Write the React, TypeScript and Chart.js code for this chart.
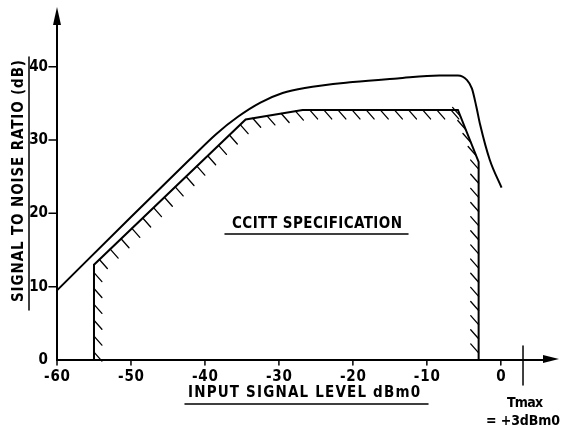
import React, { useEffect, useRef } from "react";
import { Chart, registerables } from "chart.js";

Chart.register(...registerables);

// ---- data ----
const xTicks = [-60, -50, -40, -30, -20, -10, 0];
const yTicks = [0, 10, 20, 30, 40];

// measured signal-to-noise curve
const measuredX = [-60, -50, -42, -38.5, -35.5, -32.5, -29.5, -26.5, -20, -14, -8.3, -5.8, -4.6, -3.9, -3.3, -2.8, -1.5, 0.1];
const measuredY = [9.5, 19.5, 27.4, 30.8, 33.2, 35.1, 36.4, 37.1, 37.9, 38.4, 38.8, 38.8, 38.2, 37.0, 34.5, 32.1, 27.3, 23.5];

// CCITT specification mask
const maskX = [-55, -55, -34.5, -26.8, -5.8, -3, -3];
const maskY = [0, 13, 32.8, 34.1, 34.1, 27, 0];

const tmaxValue = 3;
const xMin = -60;
const xMax = 8;
const yMin = 0;
const yMax = 48;

const FONT = '"DejaVu Sans Condensed", "Liberation Sans Narrow", "DejaVu Sans", sans-serif';

function fitText(ctx: CanvasRenderingContext2D, text: string, x: number, y: number, target: number) {
  const c: any = ctx;
  c.letterSpacing = "0px";
  const w = ctx.measureText(text).width;
  const n = text.length;
  let sp = n > 1 ? (target - w) / (n - 1) : 0;
  if (sp < -1) sp = -1;
  c.letterSpacing = sp.toFixed(2) + "px";
  const w2 = ctx.measureText(text).width;
  ctx.textAlign = "left";
  ctx.fillText(text, x - w2 / 2 + (c.letterSpacing ? sp / 2 : 0), y);
  c.letterSpacing = "0px";
}

const decorPlugin = {
  id: "decor",
  afterDatasetsDraw(chart: any) {
    const ctx: CanvasRenderingContext2D = chart.ctx;
    const xs = chart.scales.x;
    const ys = chart.scales.y;
    const ca = chart.chartArea;
    ctx.save();
    ctx.strokeStyle = "#000";
    ctx.fillStyle = "#000";
    ctx.lineCap = "round";

    // hatching along the mask
    const meta = chart.getDatasetMeta(0);
    const pts = meta.data.map((p: any) => ({ x: p.x, y: p.y }));
    const dl = Math.hypot(0.66, 0.75);
    const d0 = { x: 0.66 / dl, y: 0.75 / dl };
    const spacing = 14;
    const tickLen = 12;
    ctx.lineWidth = 1.3;
    for (let i = 0; i < pts.length - 1; i++) {
      const a = pts[i];
      const b = pts[i + 1];
      const dx = b.x - a.x;
      const dy = b.y - a.y;
      const len = Math.hypot(dx, dy);
      if (len < 1) continue;
      const ux = dx / len;
      const uy = dy / len;
      const nx = -uy;
      const ny = ux;
      let d = d0;
      if (d0.x * nx + d0.y * ny < 0) d = { x: -d0.x, y: -d0.y };
      const count = Math.max(1, Math.floor(len / spacing));
      for (let k = 0; k < count; k++) {
        const t = ((k + 0.5) * len) / count;
        const px = a.x + ux * t;
        const py = a.y + uy * t;
        ctx.beginPath();
        ctx.moveTo(px, py);
        ctx.lineTo(px + d.x * tickLen, py + d.y * tickLen);
        ctx.stroke();
      }
    }

    // axes
    const x0 = xs.getPixelForValue(xMin);
    const y0 = ys.getPixelForValue(0);
    ctx.lineWidth = 2;
    ctx.beginPath();
    ctx.moveTo(x0, y0);
    ctx.lineTo(x0, ca.top + 14);
    ctx.stroke();
    ctx.beginPath();
    ctx.moveTo(x0, y0);
    ctx.lineTo(ca.right - 12, y0);
    ctx.stroke();
    // arrow heads
    ctx.beginPath();
    ctx.moveTo(x0, ca.top - 1);
    ctx.lineTo(x0 - 4, ca.top + 17);
    ctx.lineTo(x0 + 4, ca.top + 17);
    ctx.closePath();
    ctx.fill();
    ctx.beginPath();
    ctx.moveTo(ca.right - 1, y0 - 1);
    ctx.lineTo(ca.right - 17, y0 - 5);
    ctx.lineTo(ca.right - 17, y0 + 3);
    ctx.closePath();
    ctx.fill();

    // ticks
    ctx.lineWidth = 1.5;
    ctx.font = "bold 15px " + FONT;
    ctx.textBaseline = "middle";
    for (const v of yTicks) {
      const py = ys.getPixelForValue(v);
      if (v !== 0) {
        ctx.beginPath();
        ctx.moveTo(x0 - 8, py);
        ctx.lineTo(x0, py);
        ctx.stroke();
      }
      ctx.textAlign = "right";
      ctx.fillText(String(v), x0 - 9, py);
    }
    for (const v of xTicks) {
      const px = xs.getPixelForValue(v);
      ctx.beginPath();
      ctx.moveTo(px, y0);
      ctx.lineTo(px, y0 + 5);
      ctx.stroke();
      const label = v < 0 ? "-" + Math.abs(v) : String(v);
      fitText(ctx, label, px, y0 + 17, v < 0 ? 26 : 9);
    }

    // Tmax marker
    const tx = xs.getPixelForValue(tmaxValue);
    ctx.lineWidth = 1.5;
    ctx.beginPath();
    ctx.moveTo(tx, y0 - 14);
    ctx.lineTo(tx, y0 + 25);
    ctx.stroke();
    ctx.font = "bold 14px " + FONT;
    fitText(ctx, "Tmax", tx + 2, y0 + 43, 36);
    fitText(ctx, "= +3dBm0", tx, y0 + 61, 74);

    // axis titles
    ctx.font = "bold 15px " + FONT;
    fitText(ctx, "INPUT SIGNAL LEVEL dBm0", 304, 393, 232);
    ctx.lineWidth = 1.5;
    ctx.beginPath();
    ctx.moveTo(185, 404);
    ctx.lineTo(428, 404);
    ctx.stroke();

    ctx.save();
    ctx.translate(19, 181);
    ctx.rotate(-Math.PI / 2);
    fitText(ctx, "SIGNAL TO NOISE RATIO (dB)", 0, 0, 242);
    ctx.restore();
    ctx.beginPath();
    ctx.moveTo(29, 57);
    ctx.lineTo(29, 310);
    ctx.stroke();

    ctx.font = "bold 15px " + FONT;
    fitText(ctx, "CCITT SPECIFICATION", 317, 224, 170);
    ctx.beginPath();
    ctx.moveTo(225, 234);
    ctx.lineTo(408, 234);
    ctx.stroke();

    ctx.restore();
  },
};

export default function App() {
  const ref = useRef<HTMLCanvasElement | null>(null);
  useEffect(() => {
    if (!ref.current) return;
    const chart = new Chart(ref.current, {
      type: "line",
      data: {
        datasets: [
          {
            label: "CCITT specification",
            data: maskX.map((x, i) => ({ x, y: maskY[i] })),
            borderColor: "#000",
            borderWidth: 2,
            pointRadius: 0,
            tension: 0,
            fill: false,
          },
          {
            label: "Measured S/N",
            data: measuredX.map((x, i) => ({ x, y: measuredY[i] })),
            borderColor: "#000",
            borderWidth: 2,
            pointRadius: 0,
            cubicInterpolationMode: "monotone",
            fill: false,
          },
        ],
      },
      options: {
        animation: false,
        responsive: false,
        maintainAspectRatio: false,
        layout: { padding: { left: 57, right: 1, top: 8, bottom: 68 } },
        plugins: { legend: { display: false }, tooltip: { enabled: false } },
        scales: {
          x: { type: "linear", min: xMin, max: xMax, display: false },
          y: { type: "linear", min: yMin, max: yMax, display: false },
        },
      },
      plugins: [decorPlugin],
    } as any);
    return () => chart.destroy();
  }, []);
  return (
    <div style={{ position: "absolute", left: 0, top: 0, width: 561, height: 428, background: "#fff" }}>
      <canvas ref={ref} width={561} height={428} style={{ width: 561, height: 428, display: "block" }} />
    </div>
  );
}
